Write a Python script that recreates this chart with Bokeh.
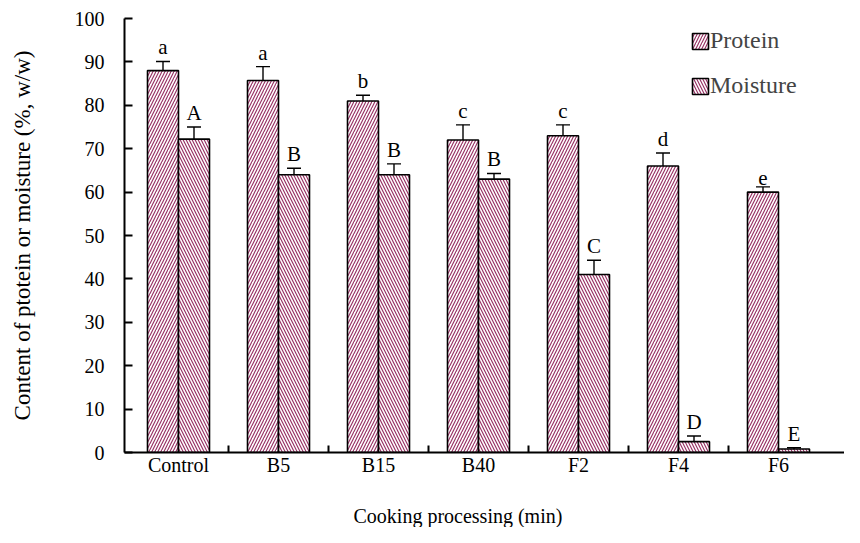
import numpy as np
from bokeh.plotting import figure
from bokeh.layouts import column
from bokeh.models import (ColumnDataSource, Range1d, FixedTicker, Whisker, TeeHead,
                          Legend, LegendItem, Label)
from bokeh.core.properties import value
from bokeh.embed import file_html
from bokeh.resources import INLINE

# ---- data ----
categories = ["Control", "B5", "B15", "B40", "F2", "F4", "F6"]
protein = [88, 85.7, 81, 72, 73, 66, 60]
protein_err = [2.1, 3.2, 1.3, 3.5, 2.5, 3.0, 1.2]
moisture = [72.2, 64, 64, 63, 41, 2.5, 0.8]
moisture_err = [2.8, 1.5, 2.5, 1.3, 3.3, 1.3, 0.3]
protein_letters = ["a", "a", "b", "c", "c", "d", "e"]
moisture_letters = ["A", "B", "B", "B", "C", "D", "E"]
y_ticks = [0, 10, 20, 30, 40, 50, 60, 70, 80, 90, 100]
x_title = "Cooking processing (min)"
y_title = "Content of ptotein or moisture (%, w/w)"

FONT = "Liberation Serif"
HATCH_COLOR = "#993366"
BAR_W = 0.31
OFF = 0.155
W = 844
LEFT = 124

idx = np.arange(len(categories)) + 0.5
xp = idx - OFF
xm = idx + OFF

p = figure(width=W, height=484, output_backend="svg", toolbar_location=None,
           x_range=Range1d(-0.04, 7.16), y_range=Range1d(0, 100),
           min_border_left=LEFT, min_border_top=18, min_border_right=0,
           min_border_bottom=32)
p.outline_line_color = None
p.xgrid.visible = False
p.ygrid.visible = False
p.background_fill_color = "white"

src_p = ColumnDataSource(dict(x=xp, top=protein,
                              upper=np.array(protein) + np.array(protein_err),
                              lower=np.array(protein) - np.array(protein_err),
                              lab=protein_letters))
src_m = ColumnDataSource(dict(x=xm, top=moisture,
                              upper=np.array(moisture) + np.array(moisture_err),
                              lower=np.array(moisture) - np.array(moisture_err),
                              lab=moisture_letters))

rp = p.vbar(x="x", top="top", width=BAR_W, bottom=0, source=src_p,
            fill_color="white", line_color="black", line_width=1.6,
            hatch_pattern="/", hatch_color=HATCH_COLOR, hatch_scale=6, hatch_weight=1.2)
rm = p.vbar(x="x", top="top", width=BAR_W, bottom=0, source=src_m,
            fill_color="white", line_color="black", line_width=1.6,
            hatch_pattern="\\", hatch_color=HATCH_COLOR, hatch_scale=6, hatch_weight=1.2)

for src in (src_p, src_m):
    w = Whisker(base="x", upper="upper", lower="lower", source=src,
                line_color="black", line_width=1.4,
                upper_head=TeeHead(size=14, line_color="black", line_width=1.4),
                lower_head=TeeHead(size=14, line_color="black", line_width=1.4))
    p.add_layout(w)
    p.text(x="x", y="upper", text="lab", source=src, text_align="center",
           text_baseline="bottom", y_offset=-2, text_font=value(FONT),
           text_font_size="21px", text_color="black")

# axes
p.yaxis.ticker = FixedTicker(ticks=y_ticks)
p.yaxis.major_tick_in = 8
p.yaxis.major_tick_out = 0
p.yaxis.minor_tick_line_color = None
p.yaxis.axis_line_width = 2
p.yaxis.major_tick_line_width = 2
p.yaxis.major_label_standoff = 20
p.yaxis.axis_label = y_title
p.yaxis.axis_label_standoff = 37

p.xaxis.ticker = FixedTicker(ticks=list(idx), minor_ticks=list(range(1, len(categories))))
p.xaxis.major_label_overrides = {float(v): c for v, c in zip(idx, categories)}
p.xaxis.major_tick_in = 0
p.xaxis.major_tick_out = 0
p.xaxis.minor_tick_in = 7
p.xaxis.minor_tick_out = 0
p.xaxis.minor_tick_line_width = 2
p.xaxis.axis_line_width = 2
p.xaxis.major_label_standoff = 1

for ax in (p.xaxis[0], p.yaxis[0]):
    ax.major_label_text_font = FONT
    ax.major_label_text_font_size = "20px"
    ax.major_label_text_color = "black"
    ax.axis_label_text_font = FONT
    ax.axis_label_text_font_size = "23px"
    ax.axis_label_text_font_style = "normal"
    ax.axis_label_text_color = "black"
    ax.axis_line_color = "black"

legend = Legend(items=[LegendItem(label="Protein", renderers=[rp]),
                       LegendItem(label="Moisture", renderers=[rm])],
                location=(566, 353), border_line_color=None,
                background_fill_alpha=0, label_text_font=FONT,
                label_text_font_size="24px", glyph_width=20, glyph_height=20,
                label_height=26, spacing=18, padding=0, margin=0,
                label_standoff=0)
p.add_layout(legend)

# strip below the chart that carries the x-axis title (frame aligned with the chart frame)
TH = 43
t = figure(width=W, height=TH, output_backend="svg", toolbar_location=None,
           x_range=Range1d(0, W - LEFT), y_range=Range1d(0, TH),
           min_border_left=LEFT, min_border_right=0, min_border_top=0,
           min_border_bottom=0)
t.axis.visible = False
t.grid.visible = False
t.outline_line_color = None
t.add_layout(Label(x=229, y=12, text=x_title, text_align="left",
                   text_baseline="middle", text_font=FONT, text_font_size="20px",
                   text_color="black"))

layout = column(p, t, spacing=0)
open("out.html", "w").write(file_html(layout, INLINE))
